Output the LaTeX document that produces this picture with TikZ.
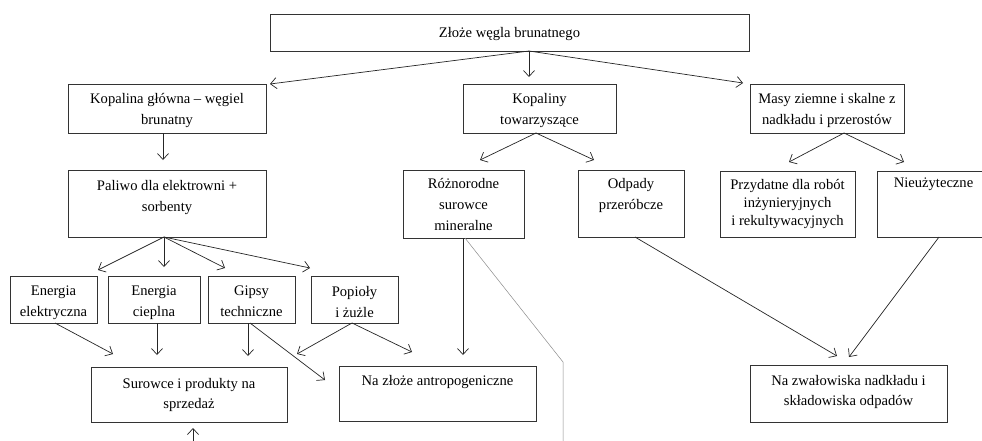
\documentclass[tikz,border=0pt]{standalone}
\usepackage{fontspec}
\setmainfont{Liberation Serif}
\usetikzlibrary{arrows.meta,calc}
\tikzset{
  boxst/.style={draw=black!80, line width=0.7pt, inner sep=0pt, outer sep=0pt},
  txt/.style={anchor=north, inner sep=0pt, align=center, font=\fontsize{14.6}{21}\selectfont},
  txtb/.style={anchor=north, inner sep=0pt, align=center, font=\fontsize{14.6}{20}\selectfont},
  txtc/.style={anchor=north, inner sep=0pt, align=center, font=\fontsize{14.6}{18}\selectfont},
  arr/.style={draw=black!85, line width=0.7pt, -{Straight Barb[length=6pt,width=11pt,line width=0.7pt]}},
  thin/.style={draw=black!45, line width=0.5pt}
}
% name, x1, y1, x2, y2, first baseline, text style, text
\newcommand\mybox[8]{%
  \node[boxst, minimum width={#4-#2}, minimum height={#5-#3}] (#1) at ({(#2+#4)/2},{(#3+#5)/2}) {};
  \node[#7] (#1t) at ({(#2+#4)/2},{#6-10}) {#8};
}
\begin{document}
\begin{tikzpicture}[x=1pt,y=-1pt]
\useasboundingbox (0,0) rectangle (982,440);
\fill[white] (0,0) rectangle (982,440);
\mybox{top}{270}{14}{749}{51}{37}{txt}{Złoże węgla brunatnego}
\mybox{kop}{68}{84}{266}{133}{103}{txt}{Kopalina główna – węgiel\\brunatny}
\mybox{tow}{463}{84}{616}{133}{103}{txt}{Kopaliny\\towarzyszące}
\mybox{masy}{750}{84}{904}{133}{103}{txt}{Masy ziemne i skalne z\\nadkładu i przerostów}
\mybox{pal}{68}{170}{266}{237}{190}{txt}{Paliwo dla elektrowni +\\sorbenty}
\mybox{roz}{403}{170}{524}{238}{188}{txt}{Różnorodne\\surowce\\mineralne}
\mybox{odp}{578}{170}{684}{237}{188}{txt}{Odpady\\przeróbcze}
\mybox{przy}{720}{171}{855}{237}{189}{txtc}{Przydatne dla robót\\inżynieryjnych\\i rekultywacyjnych}
\mybox{nieu}{877}{171}{990}{237}{188}{txt}{Nieużyteczne}
\mybox{ee}{10}{276}{97}{323}{296}{txt}{Energia\\elektryczna}
\mybox{ec}{108}{276}{200}{323}{296}{txt}{Energia\\cieplna}
\mybox{gip}{208}{276}{295}{323}{296}{txt}{Gipsy\\techniczne}
\mybox{pop}{311}{276}{398}{323}{296}{txt}{Popioły\\i żużle}
\mybox{sur}{91}{367}{287}{422}{388}{txtb}{Surowce i produkty na\\sprzedaż}
\mybox{zloz}{339}{366}{536}{421}{385}{txtb}{Na złoże antropogeniczne}
\mybox{zwal}{750}{365}{947}{422}{385}{txtb}{Na zwałowiska nadkładu i\\składowiska odpadów}
% arrow tips
\coordinate (kopE) at (270,84);
\coordinate (towE) at (529,77);
\coordinate (masyE) at (743,83);
\coordinate (palE) at (163,160);
\coordinate (rozE) at (480,160);
\coordinate (odpE) at (594,160);
\coordinate (przyE) at (789,162);
\coordinate (nieuE) at (904,162);
\coordinate (eeE) at (98,270);
\coordinate (ecE) at (164,267);
\coordinate (gipE) at (225,268);
\coordinate (popE) at (310,268);
\coordinate (surA) at (113,354);
\coordinate (surB) at (157,355);
\coordinate (surC) at (248,356);
\coordinate (surD) at (297,354);
\coordinate (zlozA) at (325,380);
\coordinate (zlozB) at (412,352);
\coordinate (zlozC) at (463,355);
\coordinate (zwalA) at (837,356);
\coordinate (zwalB) at (849,357);
\coordinate (upS) at (193,441);
\coordinate (surU) at (193,428);
\coordinate (g1) at (563,362);
\coordinate (g2) at (563,441);
% connectors
\draw[arr] (top.south -| 529,0) -- (kopE);
\draw[arr] (top.south -| 529,0) -- (towE);
\draw[arr] (top.south -| 529,0) -- (masyE);
\draw[arr] (kop.south -| 163,0) -- (palE);
\draw[arr] (tow.south -| 536,0) -- (rozE);
\draw[arr] (tow.south -| 536,0) -- (odpE);
\draw[arr] (masy.south -| 844,0) -- (przyE);
\draw[arr] (masy.south -| 844,0) -- (nieuE);
\draw[arr] (pal.south -| 164,0) -- (eeE);
\draw[arr] (pal.south -| 164,0) -- (ecE);
\draw[arr] (pal.south -| 164,0) -- (gipE);
\draw[arr] (pal.south -| 164,0) -- (popE);
\draw[arr] (ee.south -| 55,0) -- (surA);
\draw[arr] (ec.south -| 157,0) -- (surB);
\draw[arr] (gip.south -| 248,0) -- (surC);
\draw[arr] (gip.south -| 250,0) -- (zlozA);
\draw[arr] (pop.south -| 352,0) -- (surD);
\draw[arr] (pop.south -| 352,0) -- (zlozB);
\draw[arr] (roz.south -| 463,0) -- (zlozC);
\draw[arr] (odp.south -| 635,0) -- (zwalA);
\draw[arr] (nieu.south -| 939,0) -- (zwalB);
\draw[arr] (upS) -- (surU);
\draw[thin] (roz.south -| 465,0) -- (g1) -- (g2);
\end{tikzpicture}
\end{document}
